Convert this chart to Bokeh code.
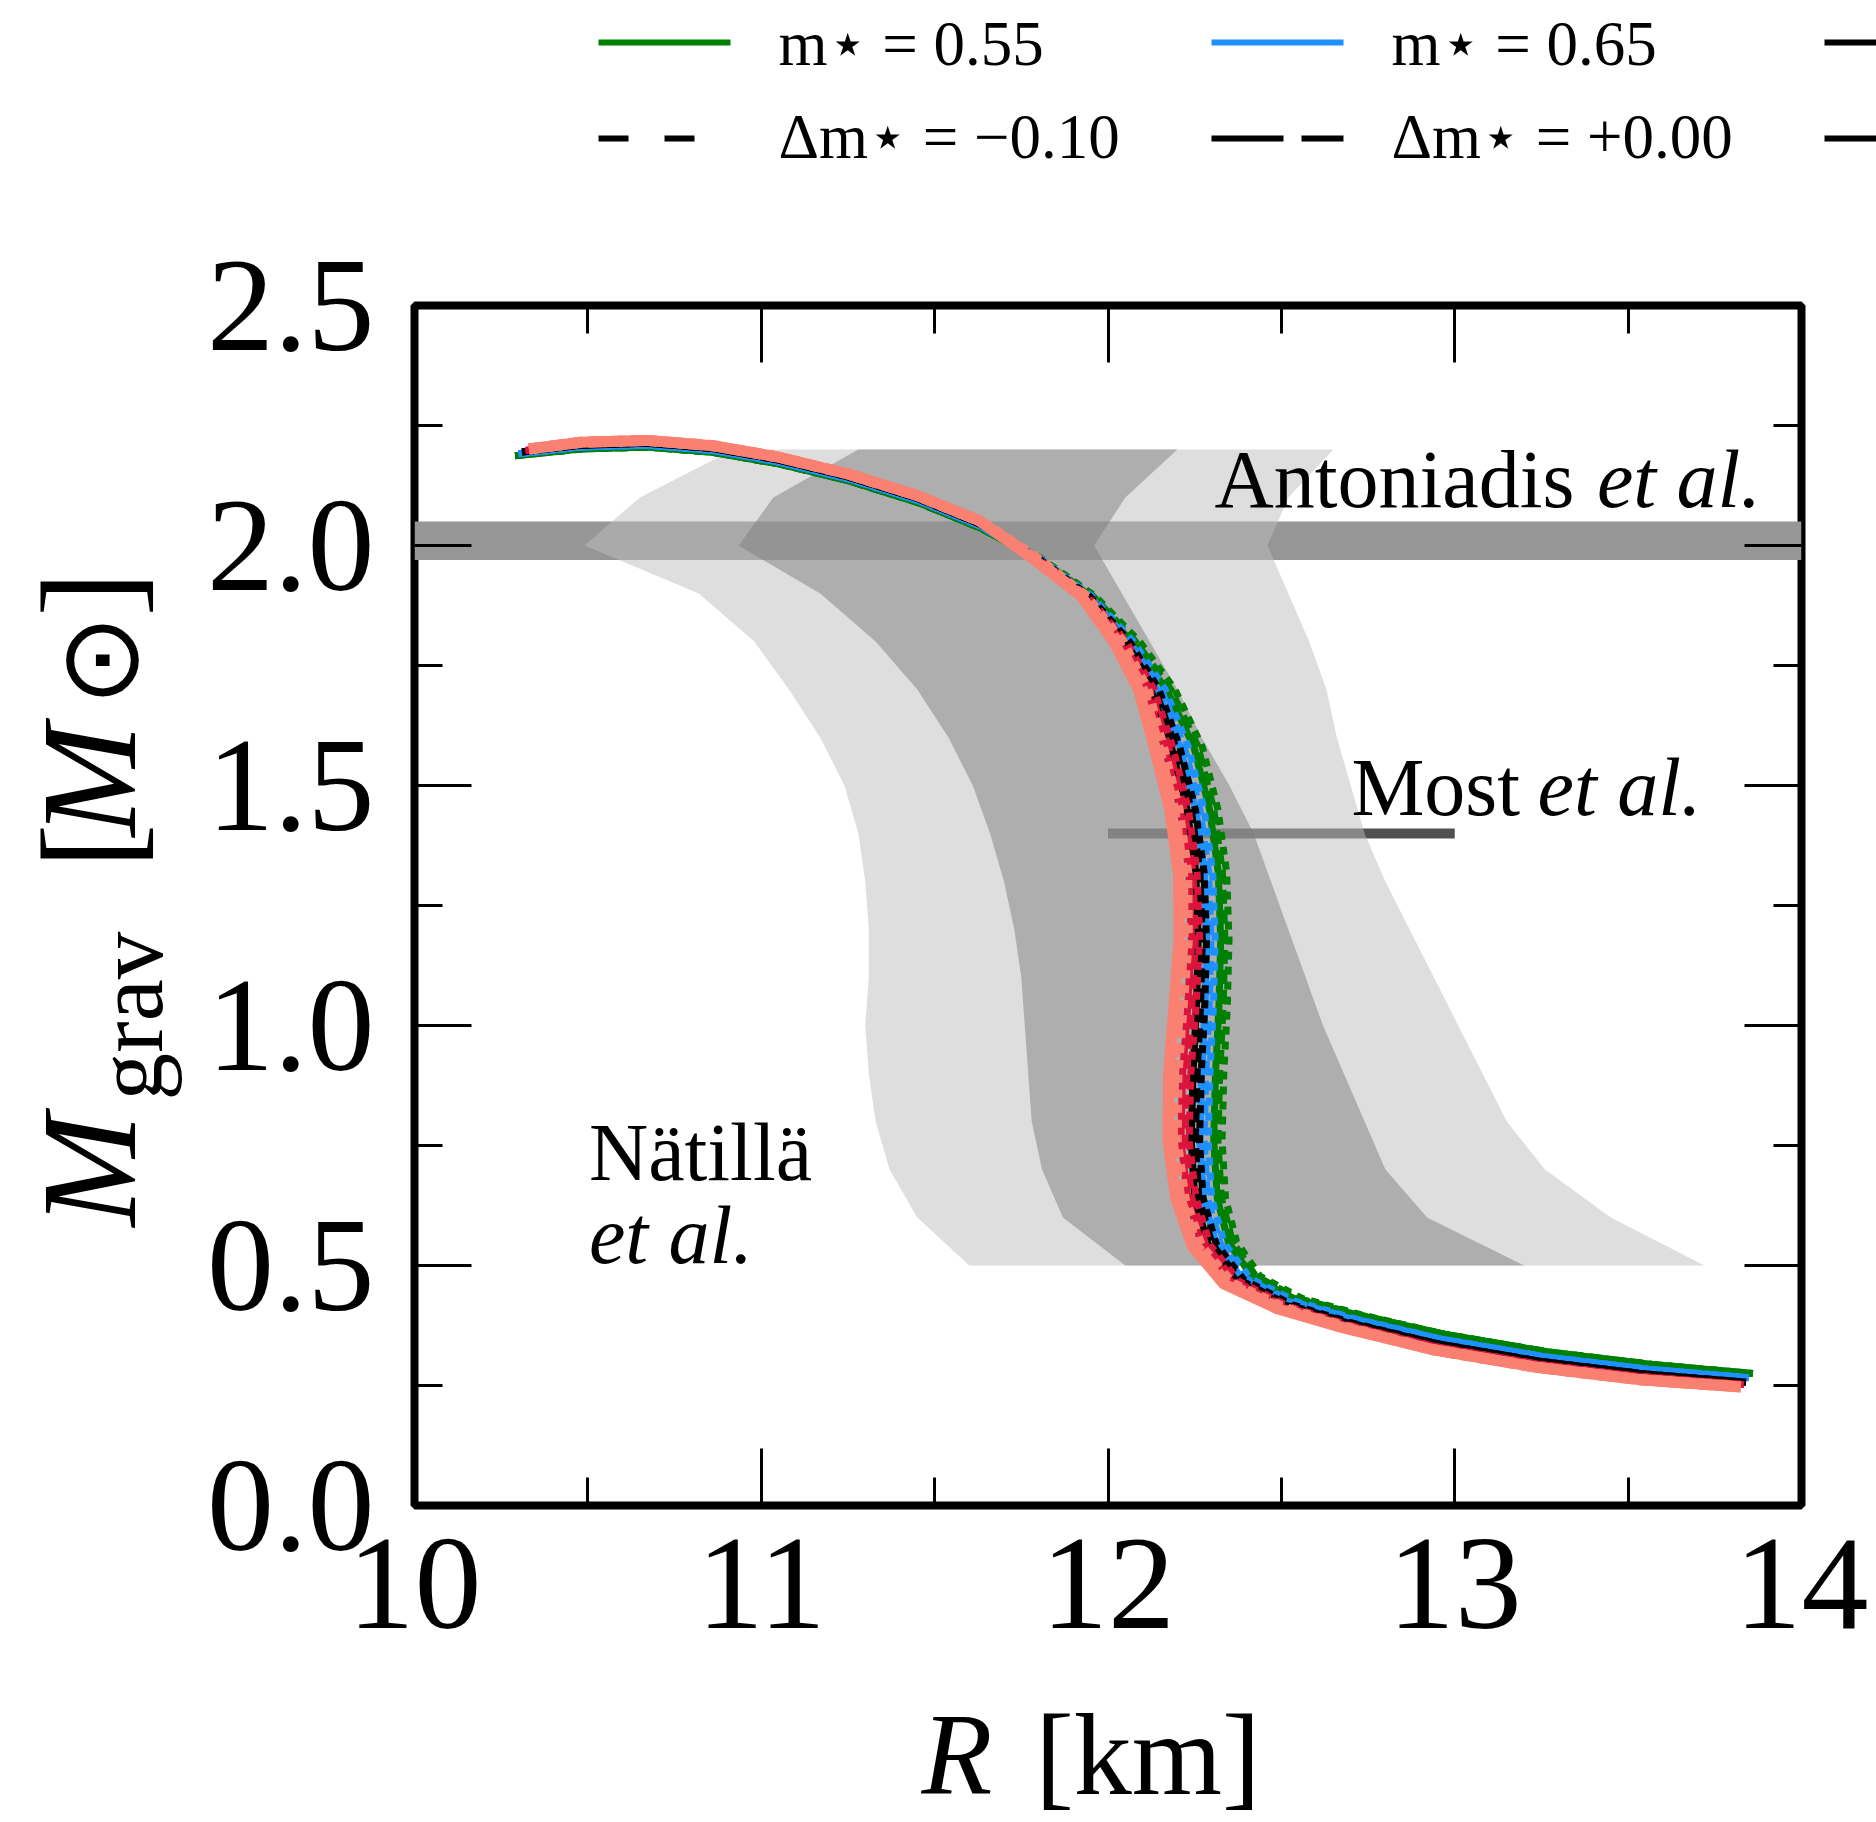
import math

from bokeh.embed import file_html
from bokeh.layouts import column, row
from bokeh.models import FixedTicker, Label, LinearAxis, PrintfTickFormatter, Range1d
from bokeh.plotting import figure
from bokeh.resources import INLINE

SERIF = "Liberation Serif"

# ---------------------------------------------------------------------------
# Mass-radius sequences.  One mass list per effective mass m*, one radius list
# per (m*, delta m*) pair: m010 = -0.10, p000 = +0.00, p010 = +0.10.
# ---------------------------------------------------------------------------
M_055 = [2.187, 2.201, 2.205, 2.194, 2.170, 2.135, 2.090, 2.037, 1.975, 1.895, 1.80, 1.70, 1.58, 1.45,
         1.32, 1.18, 1.04, 0.90, 0.76, 0.64, 0.549, 0.478, 0.432, 0.398, 0.357, 0.320, 0.294, 0.275]
R_055_m010 = [10.29, 10.48, 10.67, 10.86, 11.05, 11.25, 11.45, 11.63, 11.803, 11.962, 12.091, 12.193, 12.272, 12.317,
              12.342, 12.349, 12.344, 12.334, 12.329, 12.339, 12.371, 12.438, 12.558, 12.726, 12.97, 13.27, 13.57, 13.86]
R_055_p000 = [10.29, 10.48, 10.67, 10.86, 11.05, 11.25, 11.45, 11.63, 11.796, 11.956, 12.079, 12.181, 12.26, 12.305,
              12.33, 12.337, 12.332, 12.322, 12.317, 12.327, 12.359, 12.426, 12.546, 12.72, 12.97, 13.27, 13.57, 13.86]
R_055_p010 = [10.29, 10.48, 10.67, 10.86, 11.05, 11.25, 11.45, 11.63, 11.79, 11.95, 12.067, 12.169, 12.248, 12.293,
              12.318, 12.325, 12.32, 12.31, 12.305, 12.315, 12.347, 12.414, 12.534, 12.714, 12.97, 13.27, 13.57, 13.86]

M_065 = [2.191, 2.205, 2.209, 2.198, 2.174, 2.139, 2.094, 2.041, 1.975, 1.895, 1.80, 1.70, 1.58, 1.45,
         1.32, 1.18, 1.04, 0.90, 0.76, 0.64, 0.547, 0.473, 0.425, 0.389, 0.347, 0.310, 0.284, 0.266]
R_065_m010 = [10.30, 10.48, 10.67, 10.86, 11.05, 11.25, 11.45, 11.63, 11.799, 11.952, 12.073, 12.165, 12.232, 12.277,
              12.302, 12.309, 12.304, 12.294, 12.289, 12.299, 12.335, 12.41, 12.542, 12.714, 12.958, 13.258, 13.558, 13.848]
R_065_p000 = [10.30, 10.48, 10.67, 10.86, 11.05, 11.25, 11.45, 11.63, 11.793, 11.946, 12.061, 12.153, 12.22, 12.265,
              12.29, 12.297, 12.292, 12.282, 12.277, 12.287, 12.323, 12.398, 12.53, 12.708, 12.958, 13.258, 13.558, 13.848]
R_065_p010 = [10.30, 10.48, 10.67, 10.86, 11.05, 11.25, 11.45, 11.63, 11.787, 11.94, 12.049, 12.141, 12.208, 12.253,
              12.278, 12.285, 12.28, 12.27, 12.265, 12.275, 12.311, 12.386, 12.518, 12.702, 12.958, 13.258, 13.558, 13.848]

M_075 = [2.195, 2.209, 2.213, 2.202, 2.178, 2.143, 2.098, 2.045, 1.975, 1.895, 1.80, 1.70, 1.58, 1.45,
         1.32, 1.18, 1.04, 0.90, 0.76, 0.64, 0.545, 0.470, 0.418, 0.380, 0.337, 0.300, 0.274, 0.257]
R_075_m010 = [10.31, 10.48, 10.67, 10.86, 11.05, 11.25, 11.45, 11.63, 11.796, 11.946, 12.062, 12.147, 12.207, 12.252,
              12.277, 12.284, 12.279, 12.269, 12.264, 12.274, 12.312, 12.392, 12.532, 12.706, 12.95, 13.25, 13.55, 13.84]
R_075_p000 = [10.31, 10.48, 10.67, 10.86, 11.05, 11.25, 11.45, 11.63, 11.79, 11.94, 12.05, 12.135, 12.195, 12.24,
              12.265, 12.272, 12.267, 12.257, 12.252, 12.262, 12.30, 12.38, 12.52, 12.70, 12.95, 13.25, 13.55, 13.84]
R_075_p010 = [10.31, 10.48, 10.67, 10.86, 11.05, 11.25, 11.45, 11.63, 11.784, 11.934, 12.038, 12.123, 12.183, 12.228,
              12.253, 12.26, 12.255, 12.245, 12.24, 12.25, 12.288, 12.368, 12.508, 12.694, 12.95, 13.25, 13.55, 13.84]

M_085 = [2.198, 2.212, 2.216, 2.205, 2.181, 2.146, 2.101, 2.048, 1.975, 1.895, 1.80, 1.70, 1.58, 1.45,
         1.32, 1.18, 1.04, 0.90, 0.76, 0.64, 0.543, 0.467, 0.414, 0.375, 0.331, 0.294, 0.268, 0.252]
R_085_m010 = [10.32, 10.48, 10.67, 10.86, 11.05, 11.25, 11.45, 11.63, 11.794, 11.941, 12.053, 12.133, 12.187, 12.232,
              12.257, 12.264, 12.254, 12.239, 12.234, 12.254, 12.294, 12.378, 12.524, 12.70, 12.944, 13.244, 13.544, 13.834]
R_085_p000 = [10.32, 10.48, 10.67, 10.86, 11.05, 11.25, 11.45, 11.63, 11.788, 11.935, 12.041, 12.121, 12.175, 12.22,
              12.245, 12.252, 12.242, 12.227, 12.222, 12.242, 12.282, 12.366, 12.512, 12.694, 12.944, 13.244, 13.544, 13.834]
R_085_p010 = [10.32, 10.48, 10.67, 10.86, 11.05, 11.25, 11.45, 11.63, 11.782, 11.929, 12.029, 12.109, 12.163, 12.208,
              12.233, 12.24, 12.23, 12.215, 12.21, 12.23, 12.27, 12.354, 12.50, 12.688, 12.944, 13.244, 13.544, 13.834]

M_095 = [2.201, 2.215, 2.219, 2.208, 2.184, 2.149, 2.104, 2.051, 1.975, 1.895, 1.80, 1.70, 1.58, 1.45,
         1.32, 1.18, 1.04, 0.90, 0.76, 0.64, 0.540, 0.462, 0.410, 0.370, 0.325, 0.288, 0.262, 0.247]
R_095_m010 = [10.33, 10.48, 10.67, 10.86, 11.05, 11.25, 11.45, 11.63, 11.791, 11.934, 12.04, 12.112, 12.157, 12.202,
              12.227, 12.229, 12.214, 12.199, 12.197, 12.219, 12.267, 12.357, 12.512, 12.691, 12.935, 13.235, 13.535, 13.825]
R_095_p000 = [10.33, 10.48, 10.67, 10.86, 11.05, 11.25, 11.45, 11.63, 11.785, 11.928, 12.028, 12.10, 12.145, 12.19,
              12.215, 12.217, 12.202, 12.187, 12.185, 12.207, 12.255, 12.345, 12.50, 12.685, 12.935, 13.235, 13.535, 13.825]
R_095_p010 = [10.33, 10.48, 10.67, 10.86, 11.05, 11.25, 11.45, 11.63, 11.779, 11.922, 12.016, 12.088, 12.133, 12.178,
              12.203, 12.205, 12.19, 12.175, 12.173, 12.195, 12.243, 12.333, 12.488, 12.679, 12.935, 13.235, 13.535, 13.825]

MSTAR_LABELS = ["0.55", "0.65", "0.75", "0.85", "0.95"]
MSTAR_COLORS = ["#008000", "#1e90ff", "#000000", "#dc143c", "#fa8072"]
MSTAR_WIDTHS = [7, 7, 7, 7, 11]
MSTAR_MASSES = [M_055, M_065, M_075, M_085, M_095]
MSTAR_RADII = [
    [R_055_m010, R_055_p000, R_055_p010],
    [R_065_m010, R_065_p000, R_065_p010],
    [R_075_m010, R_075_p000, R_075_p010],
    [R_085_m010, R_085_p000, R_085_p010],
    [R_095_m010, R_095_p000, R_095_p010],
]
DELTA_LABELS = ["\u22120.10", "+0.00", "+0.10"]
DELTA_DASHES = ["8 7", "14 6", "solid"]
LEGEND_DASHES = ["30 36", "72 18", "solid"]

# Observational constraints
ANTONIADIS_M = 2.01
ANTONIADIS_ERR = 0.04
MOST_M = 1.4
MOST_R = [12.0, 13.0]

NATTILA_M = [2.2, 2.1, 2.0, 1.9, 1.8, 1.7, 1.6, 1.5, 1.4, 1.3, 1.2, 1.1, 1.0, 0.9, 0.8, 0.7, 0.6, 0.5]
NATTILA_OUTER_LO = [10.92, 10.65, 10.49, 10.82, 10.98, 11.08, 11.17, 11.24, 11.28, 11.30, 11.31, 11.31,
                    11.30, 11.31, 11.33, 11.37, 11.45, 11.60]
NATTILA_INNER_LO = [11.28, 11.035, 10.935, 11.17, 11.33, 11.45, 11.54, 11.61, 11.66, 11.70, 11.73, 11.75,
                    11.76, 11.77, 11.78, 11.81, 11.87, 12.05]
NATTILA_INNER_HI = [12.2, 12.05, 11.96, 12.04, 12.12, 12.20, 12.27, 12.35, 12.42, 12.47, 12.52, 12.57,
                    12.62, 12.68, 12.74, 12.80, 12.92, 13.2]
NATTILA_OUTER_HI = [12.65, 12.52, 12.46, 12.52, 12.58, 12.63, 12.66, 12.70, 12.74, 12.80, 12.87, 12.94,
                    13.01, 13.08, 13.15, 13.26, 13.45, 13.72]

X_MAJOR = [10, 11, 12, 13, 14]
X_MINOR = [10.5, 11.5, 12.5, 13.5]
Y_MAJOR = [0.0, 0.5, 1.0, 1.5, 2.0, 2.5]
Y_MINOR = [0.25, 0.75, 1.25, 1.75, 2.25]
X_LIM = (10, 14)
Y_LIM = (0, 2.5)

# ---------------------------------------------------------------------------
# Page layout (pixels)
# ---------------------------------------------------------------------------
PAGE_W, PAGE_H = 1876, 1822
LEGEND_H = 190
YTITLE_W = 190
MAIN_W = PAGE_W - YTITLE_W
BORDER_L, BORDER_R, BORDER_T, BORDER_B = 224, 75, 115, 186
FRAME_H = 1200
MAIN_H = BORDER_T + FRAME_H + BORDER_B
XTITLE_H = PAGE_H - LEGEND_H - MAIN_H
PX_PER_M = FRAME_H / (Y_LIM[1] - Y_LIM[0])
# Bokeh lays single-line labels a little below the requested baseline;
# anchors are lifted by this fraction of the font size.
BASELINE_LIFT = 0.36


def no_frame_align(fig):
    if "frame_align" in fig.properties():
        fig.frame_align = False


def plain_figure(width, height, x_range, y_range, **kw):
    fig = figure(width=width, height=height, x_range=x_range, y_range=y_range,
                 output_backend="svg", toolbar_location=None,
                 x_axis_location=None, y_axis_location=None, **kw)
    fig.grid.visible = False
    fig.outline_line_color = None
    fig.background_fill_color = "white"
    fig.border_fill_color = "white"
    no_frame_align(fig)
    return fig


def put_text(fig, x, y, text, size_px, style="normal", angle=0.0, font=SERIF):
    fig.add_layout(Label(x=x, y=y, text=text, text_font=font, text_font_size=f"{size_px}px",
                         text_font_style=style, text_color="black", angle=angle,
                         text_baseline="alphabetic", text_align="left"))


# ---------------------------------------------------------------------------
# Legend strip (page pixel coordinates, y downwards)
# ---------------------------------------------------------------------------
leg = plain_figure(PAGE_W, LEGEND_H, Range1d(0, PAGE_W), Range1d(LEGEND_H, 0), min_border=0)

LEG_COL_X = [598, 1211, 1824]
LEG_KEY_LEN = 132
LEG_TEXT_DX = 180
LEG_ROW_LINE_Y = [42, 138]
LEG_ROW_BASE_Y = [66, 159]
LEG_FONT = 63
for i, x0 in enumerate(LEG_COL_X):
    leg.line([x0, x0 + LEG_KEY_LEN], [LEG_ROW_LINE_Y[0]] * 2, line_color=MSTAR_COLORS[i], line_width=6)
    leg.line([x0, x0 + LEG_KEY_LEN], [LEG_ROW_LINE_Y[1]] * 2, line_color="black", line_width=6,
             line_dash=LEGEND_DASHES[i])
    if x0 + LEG_TEXT_DX < PAGE_W:
        put_text(leg, x0 + LEG_TEXT_DX, LEG_ROW_BASE_Y[0] - BASELINE_LIFT * LEG_FONT,
                 f"m\u22c6 = {MSTAR_LABELS[i]}", LEG_FONT)
        put_text(leg, x0 + LEG_TEXT_DX, LEG_ROW_BASE_Y[1] - BASELINE_LIFT * LEG_FONT,
                 f"\u0394m\u22c6 = {DELTA_LABELS[i]}", LEG_FONT)

# ---------------------------------------------------------------------------
# Mass-radius panel
# ---------------------------------------------------------------------------
p = figure(width=MAIN_W, height=MAIN_H, x_range=Range1d(*X_LIM), y_range=Range1d(*Y_LIM),
           output_backend="svg", toolbar_location=None,
           min_border_left=BORDER_L, min_border_right=BORDER_R,
           min_border_top=BORDER_T, min_border_bottom=BORDER_B)
no_frame_align(p)
p.grid.visible = False
p.background_fill_color = "white"
p.border_fill_color = "white"
p.outline_line_color = "black"
p.outline_line_width = 8

p.add_layout(LinearAxis(), "above")
p.add_layout(LinearAxis(), "right")

for ax in p.xaxis:
    ax.ticker = FixedTicker(ticks=X_MAJOR, minor_ticks=X_MINOR)
    ax.formatter = PrintfTickFormatter(format="%d")
for ax in p.yaxis:
    ax.ticker = FixedTicker(ticks=Y_MAJOR, minor_ticks=Y_MINOR)
    ax.formatter = PrintfTickFormatter(format="%.1f")
for ax in p.axis:
    ax.axis_line_color = None
    ax.major_tick_in = 57
    ax.major_tick_out = 0
    ax.minor_tick_in = 28
    ax.minor_tick_out = 0
    ax.major_tick_line_width = 3
    ax.minor_tick_line_width = 3
    ax.major_tick_line_color = "black"
    ax.minor_tick_line_color = "black"
    ax.major_label_text_alpha = 0  # mirrored axes carry ticks only

for ax, standoff in ((p.below[0], 34), (p.left[0], 40)):
    ax.major_label_text_alpha = 1
    ax.major_label_text_color = "black"
    ax.major_label_text_font = SERIF
    ax.major_label_text_font_size = "134px"
    ax.major_label_standoff = standoff

# Antoniadis et al. 2.01 +/- 0.04 Msun
p.varea(x=list(X_LIM), y1=[ANTONIADIS_M - ANTONIADIS_ERR] * 2, y2=[ANTONIADIS_M + ANTONIADIS_ERR] * 2,
        fill_color="#969696")
# Most et al. radius interval at 1.4 Msun
p.line(x=MOST_R, y=[MOST_M] * 2, line_color="#505050", line_width=10)
# Naettilae et al. credible regions
p.harea(x1=NATTILA_OUTER_LO, x2=NATTILA_OUTER_HI, y=NATTILA_M, fill_color="#bebebe", fill_alpha=0.5)
p.harea(x1=NATTILA_INNER_LO, x2=NATTILA_INNER_HI, y=NATTILA_M, fill_color="#7e7e7e", fill_alpha=0.5)

for color, width, masses, radii in zip(MSTAR_COLORS, MSTAR_WIDTHS, MSTAR_MASSES, MSTAR_RADII):
    for r, dash in zip(radii, DELTA_DASHES):
        p.line(r, masses, line_color=color, line_width=width, line_dash=dash)

NOTE_FONT = 82
NOTE_LIFT = BASELINE_LIFT * NOTE_FONT / PX_PER_M


def note(x, y_base, text, style="normal"):
    put_text(p, x, y_base + NOTE_LIFT, text, NOTE_FONT, style=style)


note(12.307, 2.077, "Antoniadis")
note(13.41, 2.077, "et al.", style="italic")
note(12.702, 1.435, "Most")
note(13.239, 1.435, "et al.", style="italic")
note(10.503, 0.673, "N\u00e4till\u00e4")
note(10.503, 0.50, "et al.", style="italic")

# ---------------------------------------------------------------------------
# Axis titles
# ---------------------------------------------------------------------------
xt = plain_figure(MAIN_W, XTITLE_H, Range1d(*X_LIM), Range1d(PAGE_H, PAGE_H - XTITLE_H),
                  min_border_left=BORDER_L, min_border_right=BORDER_R, min_border_top=0, min_border_bottom=0)
XT_FONT = 116
XT_BASE = 1796 - BASELINE_LIFT * XT_FONT
put_text(xt, 11.462, XT_BASE, "R", XT_FONT, style="italic")
put_text(xt, 11.79, XT_BASE, "[km]", XT_FONT)

yt = plain_figure(YTITLE_W, PAGE_H - LEGEND_H, Range1d(0, YTITLE_W), Range1d(PAGE_H, LEGEND_H), min_border=0)
UP = math.pi / 2
YT_FONT = 135
SUB_FONT = 95
SUN_FONT = 110
YT_BASE_X = 138
put_text(yt, YT_BASE_X - BASELINE_LIFT * YT_FONT, 1226, "M", YT_FONT, style="italic", angle=UP)
put_text(yt, 164 - BASELINE_LIFT * SUB_FONT, 1100, "grav", SUB_FONT, angle=UP)
put_text(yt, YT_BASE_X - BASELINE_LIFT * YT_FONT, 868, "[", YT_FONT, angle=UP)
put_text(yt, YT_BASE_X - BASELINE_LIFT * YT_FONT, 836, "M", YT_FONT, style="italic", angle=UP)
put_text(yt, YT_BASE_X - BASELINE_LIFT * SUN_FONT, 706, "\u2299", SUN_FONT, angle=UP, font="DejaVu Sans")
put_text(yt, YT_BASE_X - BASELINE_LIFT * YT_FONT, 616, "]", YT_FONT, angle=UP)

layout = column(leg, row(yt, column(p, xt, spacing=0), spacing=0), spacing=0)
open("out.html", "w").write(file_html(layout, INLINE))
